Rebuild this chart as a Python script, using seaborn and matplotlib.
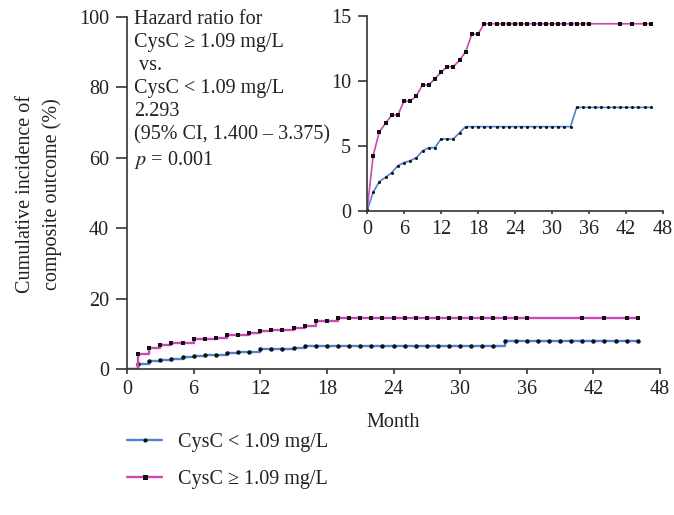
import matplotlib
matplotlib.use("Agg")
import matplotlib.pyplot as plt
import seaborn as sns
import numpy as np
import pandas as pd
from matplotlib.lines import Line2D

sns.set_style("ticks")
plt.rcParams['font.family'] = ['Liberation Serif', 'DejaVu Serif']
plt.rcParams['mathtext.fontset'] = 'stix'

# ---- data ----
low_label = "CysC < 1.09 mg/L"
high_label = "CysC \u2265 1.09 mg/L"

low_months = list(range(0, 47))
low_values = [0, 1.44, 2.26, 2.59, 2.95, 3.49, 3.72, 3.87, 4.10, 4.62, 4.87, 4.87,
              5.54, 5.54, 5.54, 6.03, 6.49, 6.49, 6.49, 6.49, 6.49, 6.49, 6.49,
              6.49, 6.49, 6.49, 6.49, 6.49, 6.49, 6.49, 6.49, 6.49, 6.49, 6.49,
              7.97, 7.97, 7.97, 7.97, 7.97, 7.97, 7.97, 7.97, 7.97, 7.97, 7.97,
              7.97, 7.97]

high_months = list(range(0, 37)) + [41, 43, 45, 46]
high_values = [0, 4.25, 6.10, 6.74, 7.38, 7.38, 8.45, 8.45, 8.85, 9.70, 9.70,
               10.15, 10.67, 11.10, 11.10, 11.60, 12.25, 13.60, 13.60, 14.40,
               14.40, 14.40, 14.40, 14.40, 14.40, 14.40, 14.40, 14.40, 14.40,
               14.40, 14.40, 14.40, 14.40, 14.40, 14.40, 14.40, 14.40,
               14.40, 14.40, 14.40, 14.40]

main_xticks = list(range(0, 49, 6))
main_yticks = [0, 20, 40, 60, 80, 100]
inset_yticks = [0, 5, 10, 15]

hr_text = ("Hazard ratio for\nCysC \u2265 1.09 mg/L\n vs.\nCysC < 1.09 mg/L\n2.293\n"
           "(95% CI, 1.400 \u2013 3.375)\n$p$ = 0.001")

blue = "#4f82d2"
magenta = "#cc45b9"
spine_c = "#333333"
FS = 14.5

low_df = pd.DataFrame({"month": low_months, "value": low_values})
high_df = pd.DataFrame({"month": high_months, "value": high_values})

W, H = 674, 515
fig = plt.figure(figsize=(W / 100, H / 100), dpi=100)

def style_axes(ax):
    sns.despine(ax=ax)
    for s in ("left", "bottom"):
        ax.spines[s].set_color(spine_c)
        ax.spines[s].set_linewidth(1.2)
    ax.tick_params(axis="both", colors=spine_c, labelcolor="#222222",
                   labelsize=FS, width=1.2)

# ---- main axes ----
ax = fig.add_axes([127 / W, 1 - 369 / H, 533 / W, 352 / H])
sns.lineplot(data=low_df, x="month", y="value", ax=ax, color=blue, lw=1.7,
             drawstyle="steps-post", marker="o", markersize=3.2,
             markeredgewidth=0, markerfacecolor="#111111",
             markevery=list(range(1, len(low_months))), estimator=None)
sns.lineplot(data=high_df, x="month", y="value", ax=ax, color=magenta, lw=1.7,
             drawstyle="steps-post", marker="s", markersize=3.3,
             markeredgewidth=0, markerfacecolor="#111111",
             markevery=list(range(1, len(high_months))), estimator=None)
ax.set_xlim(0, 48)
ax.set_ylim(0, 100)
ax.set_xticks(main_xticks)
ax.set_yticks(main_yticks)
ax.set_xlabel("Month", fontsize=FS, color="#222222", labelpad=10)
ax.set_ylabel("")
style_axes(ax)
ax.tick_params(axis="x", length=3.8, pad=4)
ax.tick_params(axis="y", length=8, pad=5)
ax.patch.set_alpha(0)

fig.text(39 / W, 1 - 194 / H, "Cumulative incidence of\ncomposite outcome (%)",
         rotation=90, ha="center", va="center", fontsize=FS, color="#222222",
         linespacing=1.45)

fig.text(134 / W, 1 - 10 / H, hr_text, ha="left", va="top", fontsize=FS,
         color="#222222", linespacing=1.29)

# ---- inset ----
ins = fig.add_axes([367 / W, 1 - 211 / H, 296 / W, 195 / H])
sns.lineplot(data=low_df, x="month", y="value", ax=ins, color=blue, lw=1.2,
             marker="o", markersize=2.2, markeredgewidth=0,
             markerfacecolor="#111111", estimator=None)
sns.lineplot(data=high_df, x="month", y="value", ax=ins, color=magenta, lw=1.2,
             marker="s", markersize=2.4, markeredgewidth=0,
             markerfacecolor="#111111", estimator=None)
ins.set_xlim(0, 48)
ins.set_ylim(0, 15)
ins.set_xticks(main_xticks)
ins.set_yticks(inset_yticks)
ins.set_xlabel("")
ins.set_ylabel("")
style_axes(ins)
ins.tick_params(axis="x", length=2.5, pad=4)
ins.tick_params(axis="y", length=6.5, pad=5)
ins.patch.set_alpha(0)

# ---- legend ----
handles = [
    Line2D([], [], color=blue, lw=1.7, marker="o", markersize=3.0,
           markeredgewidth=0, markerfacecolor="#111111"),
    Line2D([], [], color=magenta, lw=1.7, marker="s", markersize=3.6,
           markeredgewidth=0, markerfacecolor="#111111"),
]
fig.legend(handles, [low_label, high_label], loc="upper left",
           bbox_to_anchor=(109 / W, 1 - 415 / H), frameon=False, fontsize=FS,
           handlelength=1.75, handletextpad=0.8, labelspacing=0.9,
           labelcolor="#222222")

fig.savefig("out.png", dpi=100)
